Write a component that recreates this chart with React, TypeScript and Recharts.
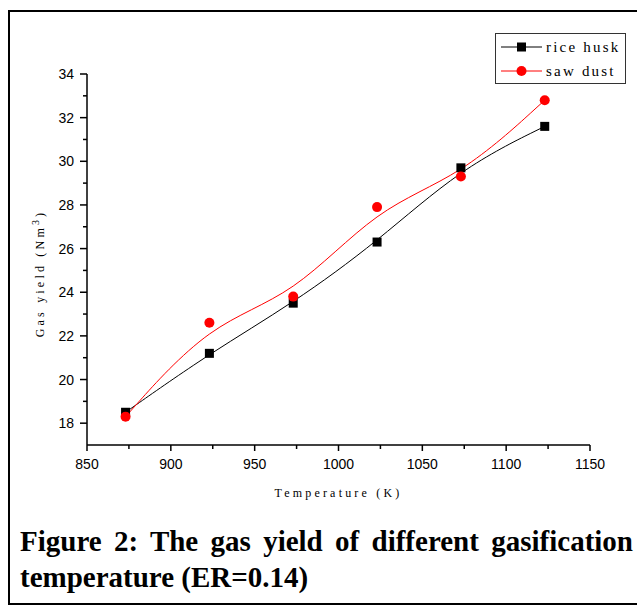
import React from "react";
import { LineChart, Line, XAxis, YAxis, Label } from "recharts";

// Gasification temperature (K)
const temperatures = [873, 923, 973, 1023, 1073, 1123];
// Gas yield (Nm3) for each feedstock
const riceHusk = [18.5, 21.2, 23.5, 26.3, 29.7, 31.6];
const sawdust = [18.3, 22.6, 23.8, 27.9, 29.3, 32.8];

const xTicks = [850, 875, 900, 925, 950, 975, 1000, 1025, 1050, 1075, 1100, 1125, 1150];
const xLabelled = [850, 900, 950, 1000, 1050, 1100, 1150];
const yTicks = [18, 19, 20, 21, 22, 23, 24, 25, 26, 27, 28, 29, 30, 31, 32, 33, 34];
const yLabelled = [18, 20, 22, 24, 26, 28, 30, 32, 34];

const seriesNames = ["rice husk", "saw dust"];

const data = temperatures.map((t, i) => ({ t, rice: riceHusk[i], saw: sawdust[i] }));

const tickFont = "'Liberation Sans', Arial, sans-serif";
const titleFont = "'Liberation Serif', 'Times New Roman', serif";

const XTick = (props: any) => {
  const { x, y, payload } = props;
  const major = xLabelled.includes(payload.value);
  return (
    <g>
      <line x1={x} x2={x} y1={y} y2={y + (major ? 6 : 4)} stroke="#000" strokeWidth={1.5} />
      {major && (
        <text x={x} y={y + 24} textAnchor="middle" fontFamily={tickFont} fontSize={14} fill="#000">
          {payload.value}
        </text>
      )}
    </g>
  );
};

const YTick = (props: any) => {
  const { x, y, payload } = props;
  const major = yLabelled.includes(payload.value);
  return (
    <g>
      <line x1={x - (major ? 7 : 4)} x2={x} y1={y} y2={y} stroke="#000" strokeWidth={1.5} />
      {major && (
        <text x={x - 13} y={y + 5} textAnchor="end" fontFamily={tickFont} fontSize={14} fill="#000">
          {payload.value}
        </text>
      )}
    </g>
  );
};

const SquareDot = (props: any) => {
  const { cx, cy } = props;
  if (cx == null || cy == null) return null;
  return <rect x={cx - 4.5} y={cy - 4.5} width={9} height={9} fill="#000" />;
};

const CircleDot = (props: any) => {
  const { cx, cy } = props;
  if (cx == null || cy == null) return null;
  return <circle cx={cx} cy={cy} r={5} fill="#ff0000" />;
};

const LegendBox = () => (
  <div
    style={{
      position: "absolute",
      left: 495,
      top: 33,
      width: 129,
      height: 49,
      border: "1px solid #333",
      background: "#fff",
      fontFamily: titleFont,
      fontSize: 15,
      letterSpacing: 2.2,
      color: "#000",
    }}
  >
    {seriesNames.map((name, i) => (
      <div key={name} style={{ position: "absolute", left: 4, top: i === 0 ? 2 : 26, height: 22, display: "flex", alignItems: "center" }}>
        <svg width={44} height={22} style={{ display: "block" }}>
          <line x1={1} x2={42} y1={11} y2={11} stroke={i === 0 ? "#000" : "#ff0000"} strokeWidth={1} />
          {i === 0 ? <rect x={17} y={6.5} width={9} height={9} fill="#000" /> : <circle cx={21.5} cy={11} r={5} fill="#ff0000" />}
        </svg>
        <span style={{ marginLeft: 2, whiteSpace: "nowrap" }}>{name}</span>
      </div>
    ))}
  </div>
);

export default function App() {
  return (
    <div style={{ position: "absolute", left: 0, top: 0, width: 637, height: 606, overflow: "hidden", background: "#fff" }}>
      <div
        style={{
          position: "absolute",
          left: 8,
          top: 10,
          width: 660,
          height: 591,
          border: "2px solid #000",
        }}
      />
      <div style={{ position: "absolute", left: 0, top: 0 }}>
        <LineChart width={637} height={560} data={data} margin={{ top: 74, right: 47, bottom: 55, left: 27 }}>
          <XAxis
            dataKey="t"
            type="number"
            domain={[850, 1150]}
            ticks={xTicks}
            interval={0}
            tickSize={0}
            tickMargin={0}
            tick={<XTick />}
            height={60}
            axisLine={{ stroke: "#000", strokeWidth: 1.5 }}
            tickLine={false}
          >
            <Label
              content={(p: any) => {
                const vb = p.viewBox;
                return (
                  <text
                    x={vb.x + vb.width / 2}
                    y={vb.y + 52}
                    textAnchor="middle"
                    fontFamily={titleFont}
                    fontSize={12}
                    letterSpacing={3.2}
                    fill="#000"
                  >
                    Temperature (K)
                  </text>
                );
              }}
            />
          </XAxis>
          <YAxis
            type="number"
            domain={[17, 34]}
            ticks={yTicks}
            interval={0}
            tickSize={0}
            tickMargin={0}
            tick={<YTick />}
            width={60}
            axisLine={{ stroke: "#000", strokeWidth: 1.5 }}
            tickLine={false}
          >
            <Label
              content={(p: any) => {
                const vb = p.viewBox;
                const cx = vb.x + 17;
                const cy = vb.y + vb.height / 2 + 14;
                return (
                  <text
                    x={cx}
                    y={cy}
                    transform={`rotate(-90 ${cx} ${cy})`}
                    textAnchor="middle"
                    fontFamily={titleFont}
                    fontSize={12}
                    letterSpacing={3.2}
                    fill="#000"
                  >
                    Gas yield (Nm
                    <tspan dy={-5} fontSize={10}>3</tspan>
                    <tspan dy={5}>)</tspan>
                  </text>
                );
              }}
            />
          </YAxis>
          <Line
            dataKey="rice"
            name={seriesNames[0]}
            type="basis"
            stroke="#000"
            strokeWidth={1}
            dot={<SquareDot />}
            activeDot={false}
            isAnimationActive={false}
          />
          <Line
            dataKey="saw"
            name={seriesNames[1]}
            type="basis"
            stroke="#ff0000"
            strokeWidth={1}
            dot={<CircleDot />}
            activeDot={false}
            isAnimationActive={false}
          />
        </LineChart>
      </div>
      <LegendBox />
      <div
        style={{
          position: "absolute",
          left: 20,
          top: 523,
          width: 613,
          fontFamily: titleFont,
          fontWeight: "bold",
          fontSize: 29,
          lineHeight: "36px",
          textAlign: "justify",
          textAlignLast: "left",
          color: "#000",
        }}
      >
        Figure 2: The gas yield of different gasification temperature (ER=0.14)
      </div>
    </div>
  );
}
